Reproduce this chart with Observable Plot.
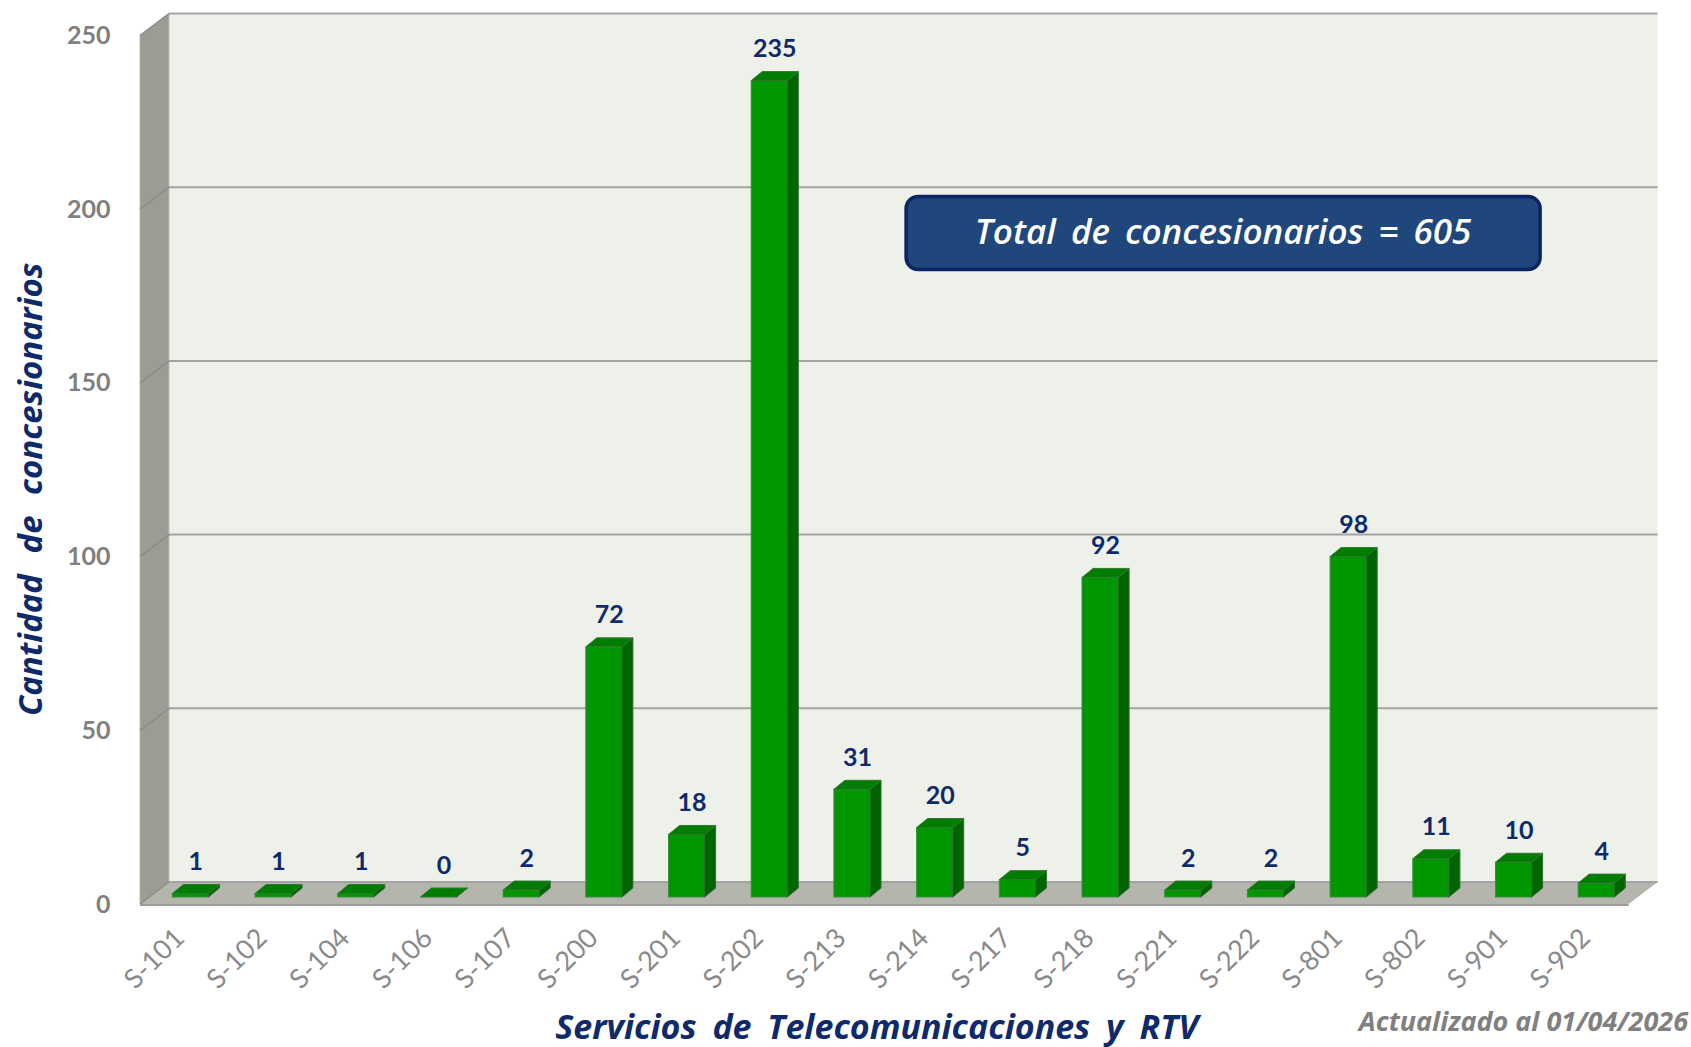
<!DOCTYPE html>
<html>
<head>
<meta charset="utf-8">
<script src="https://cdn.jsdelivr.net/npm/d3@7"></script>
<script src="https://cdn.jsdelivr.net/npm/@observablehq/plot@0.6"></script>
<style>
  html, body { margin: 0; padding: 0; background: #ffffff; }
  #chart { width: 1691px; height: 1047px; }
</style>
</head>
<body>
<div id="chart"></div>
<script>
// ---- data ----
const categories = ["S-101","S-102","S-104","S-106","S-107","S-200","S-201","S-202","S-213","S-214","S-217","S-218","S-221","S-222","S-801","S-802","S-901","S-902"];
const values = [1, 1, 1, 0, 2, 72, 18, 235, 31, 20, 5, 92, 2, 2, 98, 11, 10, 4];
const yTicks = [0, 50, 100, 150, 200, 250];
const yTitle = "Cantidad de concesionarios";
const xTitle = "Servicios de Telecomunicaciones y RTV";
const updatedNote = "Actualizado al 01/04/2026";
const totalLabel = "Total de concesionarios = " + d3.sum(values);

const data = categories.map((c, i) => ({cat: c, value: values[i]}));

// ---- style constants ----
const BACK = {dx: 20, dy: -15};
const FRONT = {dx: -9, dy: 7};
const DEPTH = {dx: 11, dy: 9};
const NAVY = "#0e2a6b";
const GRAY = "#808080";
const FONT = "Lato, 'Open Sans', sans-serif";
const TITLE_FONT = "'Open Sans', Lato, sans-serif";

const pts = (arr) => arr.map(([x, y]) => `${x},${y}`).join(" ");

function wordSpacing(px) {
  return (index, scales, vals, dim, ctx, next) => {
    const g = next(index, scales, vals, dim, ctx);
    g.style.wordSpacing = px + "px";
    return g;
  };
}

function wallsRender(index, scales, vals, dim) {
  const L = dim.marginLeft, R = dim.width - dim.marginRight;
  const Y = vals.y;
  const T = d3.min(index, i => Y[i]), B = d3.max(index, i => Y[i]);
  const g = d3.create("svg:g");
  g.append("polygon").attr("points", pts([[L+BACK.dx, T+BACK.dy],[R+BACK.dx, T+BACK.dy],[R+BACK.dx, B+BACK.dy],[L+BACK.dx, B+BACK.dy]]))
    .attr("fill", "#eef1ea");
  g.append("polygon").attr("points", pts([[L+FRONT.dx, T+FRONT.dy],[L+BACK.dx, T+BACK.dy],[L+BACK.dx, B+BACK.dy],[L+FRONT.dx, B+FRONT.dy]]))
    .attr("fill", "#9b9d95").attr("stroke", "#b9bbb4").attr("stroke-width", 1);
  g.append("polygon").attr("points", pts([[L+BACK.dx, B+BACK.dy],[R+BACK.dx, B+BACK.dy],[R+FRONT.dx, B+FRONT.dy],[L+FRONT.dx, B+FRONT.dy]]))
    .attr("fill", "#b4b6ae");
  g.append("line").attr("x1", L+FRONT.dx).attr("x2", R+FRONT.dx).attr("y1", B+FRONT.dy+1).attr("y2", B+FRONT.dy+1)
    .attr("stroke", "#9c9c9c").attr("stroke-width", 2);
  for (const i of index) {
    const y = Y[i];
    g.append("line").attr("x1", L+BACK.dx).attr("x2", R+BACK.dx).attr("y1", y+BACK.dy).attr("y2", y+BACK.dy)
      .attr("stroke", "#a3a3a3").attr("stroke-width", 2);
    g.append("line").attr("x1", L+FRONT.dx).attr("x2", L+BACK.dx).attr("y1", y+FRONT.dy).attr("y2", y+BACK.dy)
      .attr("stroke", "#8a8c85").attr("stroke-width", 1.5);
  }
  return g.node();
}

function bar3dRender(index, scales, vals, dim, ctx, next) {
  const g = next(index, scales, vals, dim, ctx);
  const rects = Array.from(g.querySelectorAll("rect"));
  for (const r of rects) {
    const x = +r.getAttribute("x"), y = +r.getAttribute("y");
    const w = +r.getAttribute("width"), h = +(r.getAttribute("height") || 0);
    const side = document.createElementNS("http://www.w3.org/2000/svg", "polygon");
    side.setAttribute("points", pts([[x+w, y],[x+w+DEPTH.dx, y-DEPTH.dy],[x+w+DEPTH.dx, y+h-DEPTH.dy],[x+w, y+h]]));
    side.setAttribute("fill", "#006400");
    side.setAttribute("stroke", "#2f6f2f");
    side.setAttribute("stroke-width", "1");
    const top = document.createElementNS("http://www.w3.org/2000/svg", "polygon");
    top.setAttribute("points", pts([[x, y],[x+DEPTH.dx, y-DEPTH.dy],[x+w+DEPTH.dx, y-DEPTH.dy],[x+w, y]]));
    top.setAttribute("fill", "#007d00");
    top.setAttribute("stroke", "#2f7a2f");
    top.setAttribute("stroke-width", "1");
    g.appendChild(side);
    g.appendChild(top);
  }
  return g;
}

const BOX = {w: 634, h: 73, dx: -415, dy: 204};
function boxRender(index, scales, vals, dim, ctx, next) {
  const g = next(index, scales, vals, dim, ctx);
  g.style.wordSpacing = "6px";
  // the group is already translated by dx/dy, so draw around the frame anchor
  const cx = dim.width - dim.marginRight;
  const cy = dim.marginTop;
  const rect = document.createElementNS("http://www.w3.org/2000/svg", "rect");
  rect.setAttribute("x", cx - BOX.w / 2);
  rect.setAttribute("y", cy - BOX.h / 2);
  rect.setAttribute("width", BOX.w);
  rect.setAttribute("height", BOX.h);
  rect.setAttribute("rx", 12);
  rect.setAttribute("fill", "#1f477b");
  rect.setAttribute("stroke", "#0b2463");
  rect.setAttribute("stroke-width", 3.5);
  g.insertBefore(rect, g.firstChild);
  return g;
}

const chart = Plot.plot({
  width: 1691,
  height: 1047,
  marginLeft: 149,
  marginRight: 53.4,
  marginTop: 28.5,
  marginBottom: 150,
  style: {fontFamily: FONT, background: "#ffffff", overflow: "visible"},
  x: {domain: categories, padding: 0, round: false, label: null},
  y: {domain: [0, 250], ticks: yTicks, label: null},
  marks: [
    Plot.ruleY(yTicks, {render: wallsRender}),
    Plot.barY(data, {x: "cat", y: "value", fill: "#009600", stroke: "#3a8f3a", strokeWidth: 1,
      insetLeft: 23.3, insetRight: 23.3, render: bar3dRender}),
    Plot.text(data, {x: "cat", y: "value", text: d => String(d.value), dx: 5, dy: -24, lineAnchor: "bottom",
      fontSize: 25, fontWeight: "bold", fill: NAVY}),
    Plot.axisY({ticks: yTicks, tickSize: 0, tickPadding: 39, dy: 7, fontSize: 25, fontWeight: "bold", fill: GRAY, label: null}),
    Plot.axisX({tickRotate: -45, tickSize: 0, tickPadding: 36, dx: -11, fontSize: 27, fill: "#8a8a8a", label: null}),
    Plot.text([yTitle], {frameAnchor: "left", textAnchor: "middle", lineAnchor: "middle", rotate: -90, dx: -118, dy: 26,
      fontSize: 33, fontWeight: "bold", fontStyle: "italic", fill: NAVY, fontFamily: TITLE_FONT,
      render: wordSpacing(12)}),
    Plot.text([xTitle], {frameAnchor: "bottom", textAnchor: "middle", lineAnchor: "middle", dx: -17, dy: 131,
      fontSize: 34, fontWeight: "bold", fontStyle: "italic", fill: NAVY, fontFamily: TITLE_FONT,
      render: wordSpacing(7)}),
    Plot.text([updatedNote], {frameAnchor: "bottom-right", textAnchor: "end", lineAnchor: "middle", dx: 50, dy: 125,
      fontSize: 27, fontWeight: "bold", fontStyle: "italic", fill: GRAY, fontFamily: TITLE_FONT}),
    Plot.text([totalLabel], {frameAnchor: "top-right", textAnchor: "middle", lineAnchor: "middle", dx: BOX.dx, dy: BOX.dy,
      fontSize: 35, fontStyle: "italic", fontWeight: 600, fill: "#ffffff", fontFamily: TITLE_FONT,
      render: boxRender})
  ]
});
document.getElementById("chart").appendChild(chart);
</script>
</body>
</html>
